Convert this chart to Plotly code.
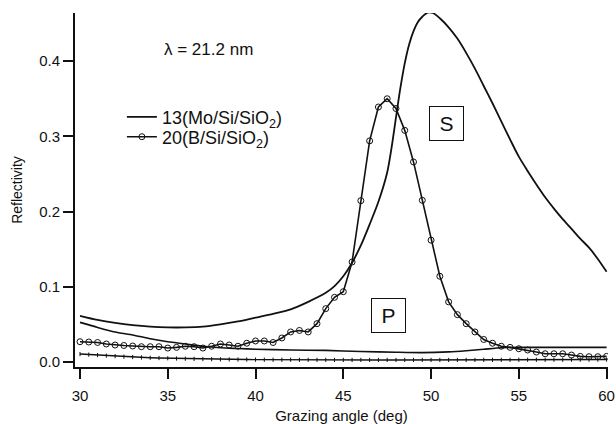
import plotly.graph_objects as go

# ---- data ----
angle_half = [30 + 0.5 * i for i in range(61)]

# 20(B/Si/SiO2) S-polarisation (open circles)
b_s = [0.027, 0.0266, 0.026, 0.024, 0.0226, 0.022, 0.0213, 0.0204, 0.0204, 0.0204,
       0.0186, 0.0195, 0.021, 0.0204, 0.0186, 0.021, 0.024, 0.0226, 0.021, 0.025,
       0.028, 0.028, 0.026, 0.032, 0.040, 0.042, 0.040, 0.051, 0.071, 0.086,
       0.0935, 0.133, 0.2145, 0.294, 0.339, 0.350, 0.337, 0.308, 0.266, 0.215,
       0.162, 0.114, 0.080, 0.063, 0.051, 0.040, 0.030, 0.025, 0.021, 0.0195,
       0.0177, 0.016, 0.0133, 0.011, 0.011, 0.011, 0.0093, 0.0075, 0.0071, 0.0071,
       0.0075]

# 20(B/Si/SiO2) P-polarisation (small dots)
b_p = [0.0106, 0.0099, 0.0092, 0.0085, 0.0078, 0.0072, 0.0066, 0.0061, 0.0057, 0.0053,
       0.0050, 0.0047, 0.0044, 0.0042, 0.0040, 0.0038, 0.0036, 0.0035, 0.0034, 0.0033,
       0.0032, 0.0031, 0.0030, 0.0030, 0.0030, 0.0029, 0.0029, 0.0029, 0.0029, 0.0028,
       0.0028, 0.0028, 0.0028, 0.0028, 0.0028, 0.0028, 0.0028, 0.0028, 0.0028, 0.0028,
       0.0028, 0.0028, 0.0028, 0.0028, 0.0028, 0.0028, 0.0029, 0.0029, 0.0029, 0.0029,
       0.0030, 0.0030, 0.0030, 0.0030, 0.0031, 0.0031, 0.0031, 0.0032, 0.0032, 0.0032,
       0.0033]

# 13(Mo/Si/SiO2) S-polarisation
mo_s_angle = [30, 31, 32, 33, 34, 35, 36, 37, 38, 39, 40, 41, 42, 43, 44, 44.5, 45, 45.5,
              46, 46.5, 47, 47.5, 47.75, 48, 48.25, 48.5, 48.75, 49, 49.25, 49.5, 49.8,
              50.1, 50.5, 51, 51.5, 52, 52.5, 53, 53.5, 54, 54.5, 55, 55.5, 56, 56.5, 57,
              57.5, 58, 58.5, 59, 59.5, 60]
mo_s = [0.0615, 0.056, 0.052, 0.049, 0.047, 0.046, 0.046, 0.047, 0.050, 0.054, 0.059,
        0.064, 0.070, 0.080, 0.092, 0.101, 0.114, 0.132, 0.155, 0.183, 0.213, 0.252,
        0.285, 0.325, 0.364, 0.397, 0.422, 0.440, 0.452, 0.459, 0.4645,
        0.4640, 0.457, 0.445, 0.430, 0.411, 0.390, 0.367, 0.344, 0.320, 0.296, 0.273,
        0.254, 0.236, 0.219, 0.204, 0.190, 0.177, 0.164, 0.152, 0.137, 0.120]

# 13(Mo/Si/SiO2) P-polarisation
mo_p_angle = [30, 31, 32, 33, 34, 35, 36, 37, 38, 39, 40, 42, 44, 46, 48, 49.5, 51, 52,
              53, 54, 55, 57, 60]
mo_p = [0.0527, 0.046, 0.040, 0.036, 0.031, 0.027, 0.024, 0.021, 0.019, 0.018, 0.017,
        0.016, 0.0155, 0.014, 0.013, 0.0125, 0.0135, 0.015, 0.017, 0.019, 0.0195,
        0.0195, 0.0195]

x_ticks = [30, 35, 40, 45, 50, 55, 60]
y_ticks = [0.0, 0.1, 0.2, 0.3, 0.4]

INK = "#111111"
FONT = "Arial, Liberation Sans, sans-serif"

fig = go.Figure()
fig.add_trace(go.Scatter(x=mo_s_angle, y=mo_s, mode="lines",
                         line=dict(color=INK, width=1.8, shape="spline", smoothing=0.8),
                         name="13(Mo/Si/SiO<sub>2</sub>)", legend="legend"))
fig.add_trace(go.Scatter(x=angle_half, y=b_s, mode="lines+markers",
                         line=dict(color=INK, width=1.6),
                         marker=dict(symbol="circle-open", size=6, color=INK,
                                     line=dict(width=1, color=INK)),
                         name="20(B/Si/SiO<sub>2</sub>)", legend="legend2"))
fig.add_trace(go.Scatter(x=mo_p_angle, y=mo_p, mode="lines",
                         line=dict(color=INK, width=1.6, shape="spline", smoothing=0.6),
                         showlegend=False))
fig.add_trace(go.Scatter(x=angle_half, y=b_p, mode="lines+markers",
                         line=dict(color=INK, width=1.4),
                         marker=dict(symbol="line-ns-open", size=3, color=INK,
                                     line=dict(width=1, color=INK)),
                         showlegend=False))

fig.add_annotation(x=37.3, y=0.415, text="λ = 21.2 nm", showarrow=False,
                   font=dict(size=17, color=INK, family=FONT))
fig.add_annotation(x=50.9, y=0.3165, text="S", showarrow=False,
                   font=dict(size=21, color=INK, family=FONT),
                   bordercolor=INK, borderwidth=1, borderpad=2, width=29, height=29)
fig.add_annotation(x=47.6, y=0.0616, text="P", showarrow=False,
                   font=dict(size=21, color=INK, family=FONT),
                   bordercolor=INK, borderwidth=1, borderpad=2, width=29, height=29)

leg_common = dict(xanchor="left", yanchor="top", bgcolor="rgba(0,0,0,0)",
                  font=dict(size=18, color=INK, family=FONT), itemwidth=30)
fig.update_layout(
    width=616, height=424,
    margin=dict(l=75, r=8, t=13, b=57, autoexpand=False),
    paper_bgcolor="white", plot_bgcolor="white",
    font=dict(family=FONT, size=15, color=INK),
    legend=dict(x=0.088, y=0.758, **leg_common),
    legend2=dict(x=0.088, y=0.702, **leg_common),
    showlegend=True,
)
fig.update_xaxes(range=[29.715, 60.08], tickvals=x_ticks, ticktext=[str(v) for v in x_ticks],
                 showgrid=False, zeroline=False, showline=True, linecolor=INK, linewidth=1.5,
                 ticks="outside", ticklen=10, tickwidth=1.5, tickcolor=INK,
                 tickfont=dict(size=15, color=INK), ticklabelstandoff=4, automargin=False,
                 title=dict(text="Grazing angle (deg)", font=dict(size=15, color=INK), standoff=11))
fig.update_yaxes(range=[-0.0066, 0.464], tickvals=y_ticks, ticktext=["0.0", "0.1", "0.2", "0.3", "0.4"],
                 showgrid=False, zeroline=False, showline=True, linecolor=INK, linewidth=2,
                 ticks="outside", ticklen=10, tickwidth=1.5, tickcolor=INK,
                 tickfont=dict(size=15, color=INK), automargin=False,
                 title=dict(text="Reflectivity", font=dict(size=14, color=INK), standoff=13))

fig.write_html("out.html")
